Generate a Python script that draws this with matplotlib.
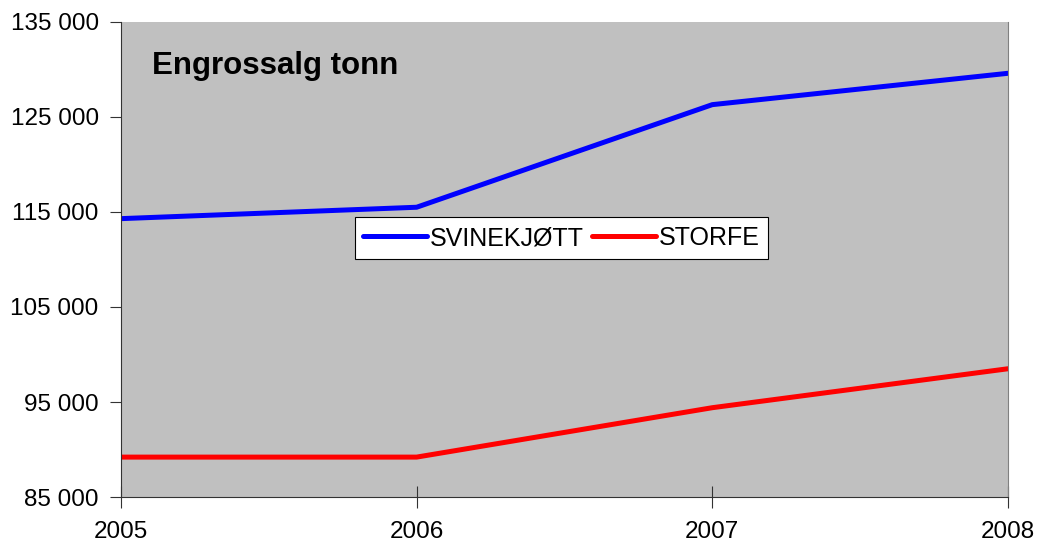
import matplotlib
matplotlib.use("Agg")
from matplotlib import pyplot as plt

years = [2005, 2006, 2007, 2008]
svinekjott = [114300, 115500, 126300, 129600]
storfe = [89200, 89200, 94400, 98500]
yticks = [85000, 95000, 105000, 115000, 125000, 135000]

plt.rcParams['font.family'] = ['Liberation Sans', 'DejaVu Sans']

fig = plt.figure(figsize=(10.4, 5.47), dpi=100)
ax = fig.add_axes([0.1163, 0.0914, 0.8529, 0.8684])
ax.set_facecolor('#c0c0c0')

ax.plot(years, svinekjott, color='#0000ff', lw=3.6, label='SVINEKJØTT', solid_capstyle='round')
ax.plot(years, storfe, color='#ff0000', lw=3.6, label='STORFE', solid_capstyle='round')

ax.set_xlim(2005, 2008)
ax.set_ylim(85000, 135000)
ax.set_xticks(years)
ax.set_yticks(yticks)
ax.set_yticklabels([f"{v:,}".replace(",", " ") for v in yticks])
ax.tick_params(axis='y', direction='out', length=8, labelsize=17.5, pad=8, color='#333333')
ax.tick_params(axis='x', direction='inout', length=16, labelsize=17.5, pad=9, color='#333333')

ax.spines['top'].set_visible(False)
ax.spines['right'].set_color('#808080')
ax.spines['left'].set_color('#333333')
ax.spines['bottom'].set_color('#333333')

ax.text(0.035, 0.907, 'Engrossalg tonn', transform=ax.transAxes, fontsize=22.5,
        fontweight='bold', va='center', ha='left')

leg = ax.legend(loc='center', bbox_to_anchor=(0.4966, 0.545), ncol=2, fontsize=18,
                frameon=True, fancybox=False, framealpha=1, edgecolor='black',
                handlelength=2.55, handletextpad=0.1, columnspacing=0.35, borderpad=0.35)
leg.get_frame().set_linewidth(0.8)

fig.savefig("out.png", dpi=100)
